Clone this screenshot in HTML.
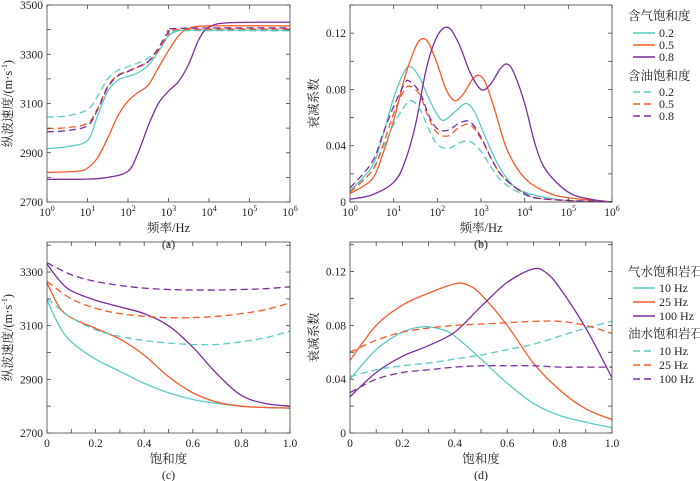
<!DOCTYPE html>
<html><head><meta charset="utf-8">
<style>
html,body{margin:0;padding:0;background:#fff;}
svg{display:block;font-family:"Liberation Serif","Noto Serif CJK SC",serif;}
</style></head>
<body>
<svg id="fig" width="700" height="481" viewBox="0 0 700 481"></svg>
<script>
// ---- data ----
const satLevels = ['0.2','0.5','0.8'];
const freqLabels = ['10 Hz','25 Hz','100 Hz'];
// (a) velocity vs log10 frequency
const aGas02 = [[0,2917],[0.5,2925],[1,2950],[1.25,3050],[1.5,3150],[1.75,3195],[2,3210],[2.25,3225],[2.5,3255],[2.75,3310],[3,3375],[3.25,3395],[3.5,3398],[4,3398],[6,3398]];
const aGas05 = [[0,2820],[0.75,2825],[1,2838],[1.25,2880],[1.5,2960],[1.75,3050],[2,3110],[2.25,3145],[2.5,3175],[2.75,3245],[3,3315],[3.25,3375],[3.5,3405],[4,3415],[6,3415]];
const aGas08 = [[0,2792],[1,2793],[1.5,2800],[2,2825],[2.25,2900],[2.5,3010],[2.75,3100],[3,3150],[3.25,3190],[3.5,3260],[3.75,3360],[4,3410],[4.5,3428],[6,3430]];
const aOil02 = [[0,3045],[0.5,3050],[1,3075],[1.25,3130],[1.5,3200],[1.75,3235],[2,3250],[2.25,3265],[2.5,3285],[2.75,3320],[3,3380],[3.25,3395],[6,3395]];
const aOil05 = [[0,2998],[0.5,3002],[1,3020],[1.25,3080],[1.5,3170],[1.75,3215],[2,3232],[2.25,3250],[2.5,3270],[2.75,3315],[3,3380],[3.25,3400],[6,3402]];
const aOil08 = [[0,2985],[0.5,2990],[1,3010],[1.25,3075],[1.5,3165],[1.75,3212],[2,3230],[2.25,3248],[2.5,3270],[2.75,3325],[3,3390],[3.25,3405],[6,3407]];
// (b) attenuation vs log10 frequency
const bGas02 = [[0,0.008],[0.5,0.025],[0.75,0.047],[1,0.074],[1.25,0.093],[1.4,0.096],[1.6,0.088],[1.8,0.074],[2,0.062],[2.15,0.058],[2.4,0.064],[2.65,0.070],[2.85,0.064],[3.1,0.046],[3.4,0.026],[3.7,0.013],[4,0.007],[4.5,0.003],[5,0.001],[6,0]];
const bGas05 = [[0,0.006],[0.5,0.016],[0.75,0.034],[1,0.058],[1.25,0.088],[1.5,0.110],[1.65,0.116],[1.8,0.113],[2,0.098],[2.2,0.080],[2.4,0.072],[2.6,0.077],[2.8,0.087],[2.95,0.090],[3.1,0.085],[3.3,0.067],[3.6,0.037],[4,0.017],[4.5,0.007],[5,0.003],[6,0]];
const bGas08 = [[0,0.002],[0.5,0.005],[1,0.014],[1.25,0.028],[1.5,0.055],[1.75,0.095],[2,0.118],[2.25,0.124],[2.5,0.112],[2.75,0.092],[3,0.080],[3.2,0.083],[3.45,0.095],[3.6,0.098],[3.75,0.092],[4,0.070],[4.25,0.040],[4.5,0.022],[5,0.007],[5.5,0.002],[6,0]];
const bOil02 = [[0,0.008],[0.5,0.022],[0.75,0.038],[1,0.055],[1.25,0.068],[1.4,0.072],[1.6,0.066],[1.8,0.052],[2,0.041],[2.25,0.038],[2.5,0.042],[2.75,0.043],[3,0.036],[3.25,0.024],[3.5,0.014],[4,0.005],[4.5,0.002],[6,0]];
const bOil05 = [[0,0.007],[0.5,0.022],[0.75,0.040],[1,0.063],[1.25,0.080],[1.4,0.082],[1.6,0.076],[1.8,0.060],[2,0.049],[2.25,0.047],[2.5,0.053],[2.75,0.055],[3,0.045],[3.25,0.030],[3.5,0.018],[4,0.006],[4.5,0.002],[6,0]];
const bOil08 = [[0,0.010],[0.5,0.028],[0.75,0.048],[1,0.068],[1.25,0.084],[1.35,0.086],[1.6,0.078],[1.8,0.062],[2,0.052],[2.25,0.051],[2.5,0.056],[2.75,0.057],[3,0.046],[3.25,0.030],[3.5,0.018],[4,0.006],[4.5,0.002],[6,0]];
// (c) velocity vs saturation
const cGas10 = [[0,3195],[0.05,3100],[0.1,3040],[0.2,2975],[0.3,2930],[0.4,2885],[0.5,2850],[0.6,2825],[0.7,2810],[0.8,2800],[0.9,2795],[1,2793]];
const cGas25 = [[0,3260],[0.05,3170],[0.1,3130],[0.2,3090],[0.3,3050],[0.4,2990],[0.5,2910],[0.6,2850],[0.7,2815],[0.8,2800],[0.9,2795],[1,2793]];
const cGas100 = [[0,3330],[0.05,3270],[0.1,3230],[0.2,3195],[0.3,3170],[0.4,3145],[0.5,3100],[0.6,3020],[0.7,2920],[0.8,2840],[0.9,2810],[1,2800]];
const cOil10 = [[0,3200],[0.1,3130],[0.2,3085],[0.3,3060],[0.4,3045],[0.5,3035],[0.6,3030],[0.7,3030],[0.8,3040],[0.9,3055],[1,3080]];
const cOil25 = [[0,3265],[0.1,3200],[0.2,3165],[0.3,3145],[0.4,3135],[0.5,3130],[0.6,3130],[0.7,3135],[0.8,3145],[0.9,3160],[1,3185]];
const cOil100 = [[0,3335],[0.1,3290],[0.2,3265],[0.3,3250],[0.4,3240],[0.5,3235],[0.6,3233],[0.7,3233],[0.8,3235],[0.9,3238],[1,3245]];
// (d) attenuation vs saturation
const dGas10 = [[0,0.040],[0.1,0.062],[0.2,0.075],[0.28,0.079],[0.35,0.077],[0.4,0.072],[0.5,0.055],[0.6,0.037],[0.7,0.022],[0.8,0.013],[0.9,0.008],[1,0.004]];
const dGas25 = [[0,0.054],[0.1,0.080],[0.2,0.095],[0.3,0.104],[0.4,0.111],[0.45,0.110],[0.5,0.103],[0.6,0.080],[0.7,0.052],[0.8,0.032],[0.9,0.018],[1,0.010]];
const dGas100 = [[0,0.027],[0.1,0.045],[0.2,0.057],[0.3,0.065],[0.4,0.075],[0.5,0.094],[0.6,0.112],[0.7,0.122],[0.75,0.119],[0.8,0.108],[0.9,0.078],[1,0.041]];
const dOil10 = [[0,0.042],[0.1,0.047],[0.2,0.050],[0.3,0.052],[0.4,0.055],[0.5,0.058],[0.6,0.062],[0.7,0.066],[0.8,0.072],[0.9,0.078],[1,0.083]];
const dOil25 = [[0,0.060],[0.1,0.069],[0.2,0.075],[0.3,0.078],[0.4,0.080],[0.5,0.081],[0.6,0.082],[0.7,0.083],[0.8,0.083],[0.9,0.080],[1,0.074]];
const dOil100 = [[0,0.030],[0.1,0.040],[0.2,0.045],[0.3,0.047],[0.4,0.049],[0.5,0.050],[0.6,0.050],[0.7,0.050],[0.8,0.049],[0.9,0.049],[1,0.049]];

const COL = ['#5ccbc4','#f55a2a','#7b2d9e'];
const NS = 'http://www.w3.org/2000/svg';
const svg = document.getElementById('fig');
function mk(tag, attrs, parent){
  const e = document.createElementNS(NS, tag);
  for (const k in attrs) e.setAttribute(k, attrs[k]);
  (parent||svg).appendChild(e);
  return e;
}
function pathD(pts, sx, sy){
  const p = pts.map(d=>[sx(d[0]), sy(d[1])]);
  let s = 'M'+p[0][0].toFixed(2)+','+p[0][1].toFixed(2);
  for (let i=0;i<p.length-1;i++){
    const p0=p[Math.max(0,i-1)], p1=p[i], p2=p[i+1], p3=p[Math.min(p.length-1,i+2)];
    const c1=[p1[0]+(p2[0]-p0[0])/6, p1[1]+(p2[1]-p0[1])/6];
    const c2=[p2[0]-(p3[0]-p1[0])/6, p2[1]-(p3[1]-p1[1])/6];
    s+=' C'+c1[0].toFixed(2)+','+c1[1].toFixed(2)+' '+c2[0].toFixed(2)+','+c2[1].toFixed(2)+' '+p2[0].toFixed(2)+','+p2[1].toFixed(2);
  }
  return s;
}
function panel(o){
  const g = mk('g',{});
  
  
  const sx = v => o.x0 + (v-o.xmin)/(o.xmax-o.xmin)*(o.x1-o.x0);
  const sy = v => o.y1 - (v-o.ymin)/(o.ymax-o.ymin)*(o.y1-o.y0);
  // series
  o.series.forEach((s,i)=>{
    const p = mk('path',{d:pathD(s.data,sx,sy),fill:'none',stroke:s.color,'stroke-width':1.3,'stroke-dasharray':s.dash?'7,4':'none'},g);
    
    
  });
  // frame
  const fr = mk('rect',{x:o.x0,y:o.y0,width:o.x1-o.x0,height:o.y1-o.y0,fill:'none',stroke:'#444','stroke-width':0.8},g);
  
  
  // y ticks
  o.yticks.forEach(t=>{
    const y = sy(t);
    mk('line',{x1:o.x0,x2:o.x0+4,y1:y,y2:y,stroke:'#444','stroke-width':0.8},g);
    mk('line',{x1:o.x1,x2:o.x1-4,y1:y,y2:y,stroke:'#444','stroke-width':0.8},g);
  });
  o.ylabels.forEach(t=>{
    const tx = mk('text',{x:o.x0-4,y:sy(t[0])+4,'text-anchor':'end','font-size':11.5,fill:'#222'},g);
    tx.textContent = t[1];
    
    
  });
  o.xticks.forEach(t=>{
    const x = sx(t);
    mk('line',{x1:x,x2:x,y1:o.y1,y2:o.y1-4,stroke:'#444','stroke-width':0.8},g);
    mk('line',{x1:x,x2:x,y1:o.y0,y2:o.y0+4,stroke:'#444','stroke-width':0.8},g);
  });
  o.xlabels.forEach(t=>{
    const tx = mk('text',{x:sx(t[0]),y:o.y1+14,'text-anchor':'middle','font-size':11.5,fill:'#222'},g);
    
    
    if (o.log){
      tx.textContent = '10';
      const sp = mk('tspan',{dy:-5,'font-size':8},tx); sp.textContent = t[1];
    } else tx.textContent = t[1];
  });
  const xt = mk('text',{x:(o.x0+o.x1)/2,y:o.y1+30,'text-anchor':'middle','font-size':12.5,fill:'#222'},g);
  xt.textContent = o.xtitle;
  
  
  const cap = mk('text',{x:(o.x0+o.x1)/2,y:o.y1+46,'text-anchor':'middle','font-size':12,fill:'#222'},g);
  cap.textContent = o.caption;
  
  
  const cy=(o.y0+o.y1)/2;
  const yt = mk('text',{x:o.ytx,y:cy,'text-anchor':'middle','font-size':12.5,fill:'#222',transform:'rotate(-90 '+o.ytx+' '+cy+')'},g);
  
  
  if (o.ytitle==='v'){
    yt.textContent='纵波速度/(m·s';
    const sp=mk('tspan',{dy:-5,'font-size':8},yt); sp.textContent='-1';
    const sp2=mk('tspan',{dy:5},yt); sp2.textContent=')';
  } else yt.textContent=o.ytitle;
}
function range(a,b,s){const r=[];for(let v=a;v<=b+1e-9;v+=s)r.push(+v.toFixed(4));return r;}
const decTicks=[0,1,2,3,4,5,6];
const decLabels=decTicks.map(d=>[d,String(d)]);
const satTicks=range(0,1,0.1);
const satLabels=[[0,'0'],[0.2,'0.2'],[0.4,'0.4'],[0.6,'0.6'],[0.8,'0.8'],[1,'1.0']];
const qLab=[[0,'0'],[0.04,'0.04'],[0.08,'0.08'],[0.12,'0.12']];

panel({name:'panel-a',x0:47,x1:290,y0:5,y1:202,xmin:0,xmax:6,ymin:2700,ymax:3500,log:true,
  xticks:decTicks,xlabels:decLabels,yticks:range(2700,3500,100),
  ylabels:[[2700,'2700'],[2900,'2900'],[3100,'3100'],[3300,'3300'],[3500,'3500']],
  xtitle:'频率/Hz',caption:'(a)',ytitle:'v',ytx:12,
  series:[{name:'gas-0.2',data:aGas02,color:COL[0]},{name:'gas-0.5',data:aGas05,color:COL[1]},{name:'gas-0.8',data:aGas08,color:COL[2]},
    {name:'oil-0.2',data:aOil02,color:COL[0],dash:1},{name:'oil-0.5',data:aOil05,color:COL[1],dash:1},{name:'oil-0.8',data:aOil08,color:COL[2],dash:1}]});
panel({name:'panel-b',x0:350,x1:612,y0:5,y1:202,xmin:0,xmax:6,ymin:0,ymax:0.14,log:true,
  xticks:decTicks,xlabels:decLabels,yticks:range(0,0.14,0.02),ylabels:qLab,
  xtitle:'频率/Hz',caption:'(b)',ytitle:'衰减系数',ytx:318,
  series:[{name:'gas-0.2',data:bGas02,color:COL[0]},{name:'gas-0.5',data:bGas05,color:COL[1]},{name:'gas-0.8',data:bGas08,color:COL[2]},
    {name:'oil-0.2',data:bOil02,color:COL[0],dash:1},{name:'oil-0.5',data:bOil05,color:COL[1],dash:1},{name:'oil-0.8',data:bOil08,color:COL[2],dash:1}]});
panel({name:'panel-c',x0:47,x1:290,y0:242,y1:433,xmin:0,xmax:1,ymin:2700,ymax:3412,
  xticks:satTicks,xlabels:satLabels,yticks:range(2700,3400,100),
  ylabels:[[2700,'2700'],[2900,'2900'],[3100,'3100'],[3300,'3300']],
  xtitle:'饱和度',caption:'(c)',ytitle:'v',ytx:12,
  series:[{name:'gas-10hz',data:cGas10,color:COL[0]},{name:'gas-25hz',data:cGas25,color:COL[1]},{name:'gas-100hz',data:cGas100,color:COL[2]},
    {name:'oil-10hz',data:cOil10,color:COL[0],dash:1},{name:'oil-25hz',data:cOil25,color:COL[1],dash:1},{name:'oil-100hz',data:cOil100,color:COL[2],dash:1}]});
panel({name:'panel-d',x0:350,x1:612,y0:242,y1:433,xmin:0,xmax:1,ymin:0,ymax:0.142,
  xticks:satTicks,xlabels:satLabels,yticks:range(0,0.14,0.02),ylabels:qLab,
  xtitle:'饱和度',caption:'(d)',ytitle:'衰减系数',ytx:318,
  series:[{name:'gas-10hz',data:dGas10,color:COL[0]},{name:'gas-25hz',data:dGas25,color:COL[1]},{name:'gas-100hz',data:dGas100,color:COL[2]},
    {name:'oil-10hz',data:dOil10,color:COL[0],dash:1},{name:'oil-25hz',data:dOil25,color:COL[1],dash:1},{name:'oil-100hz',data:dOil100,color:COL[2],dash:1}]});

function legend(name,x,groups){
  const g=mk('g',{});
  
  
  groups.forEach(gr=>{
    const t=mk('text',{x:x,y:gr.y,'font-size':12.5,fill:'#222'},g);
    t.textContent=gr.title;
    
    
    gr.labels.forEach((lab,i)=>{
      const y=gr.ys[i];
      mk('line',{x1:x+5,x2:x+27,y1:y-4,y2:y-4,stroke:COL[i],'stroke-width':1.4,'stroke-dasharray':gr.dash?'7,4':'none'},g);
      const tt=mk('text',{x:x+31,y:y,'font-size':12,fill:'#222'},g);
      tt.textContent=lab;
      
      
    });
  });
}
legend('legend-b',628,[{title:'含气饱和度',y:20,ys:[37,49,61],labels:satLevels},{title:'含油饱和度',y:80,ys:[96,108,120],labels:satLevels,dash:1}]);
legend('legend-d',628,[{title:'气水饱和岩石',y:276,ys:[292,306,320],labels:freqLabels},{title:'油水饱和岩石',y:338,ys:[355,369,383],labels:freqLabels,dash:1}]);
</script>
</body></html>
